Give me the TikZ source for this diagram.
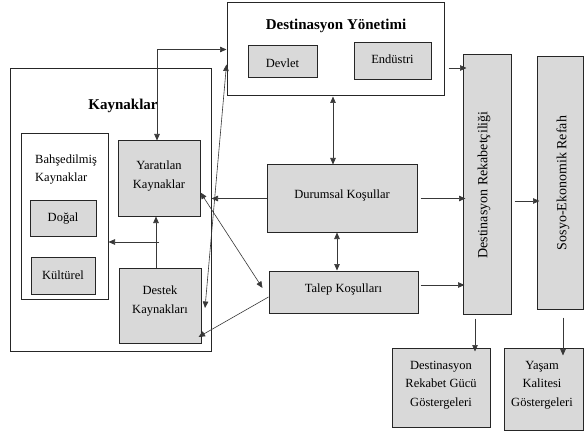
\documentclass[tikz,border=0pt]{standalone}
\usepackage{fontspec}
\setmainfont{Liberation Serif}
\usetikzlibrary{arrows.meta}
\definecolor{boxgray}{HTML}{D9D9D9}
\definecolor{lin}{HTML}{262626}
\definecolor{arrc}{HTML}{383838}
\begin{document}
\begin{tikzpicture}[x=1pt,y=-1pt,
  box/.style={draw=lin, line width=1pt, inner sep=0pt},
  gbox/.style={box, fill=boxgray},
  wbox/.style={box, fill=white},
  txt/.style={font=\fontsize{12.5}{18.5}\selectfont, align=center, inner sep=0pt, yshift=-2pt},
  ttl/.style={font=\fontsize{15}{18}\selectfont\bfseries, inner sep=0pt, yshift=-2pt},
  rtxt/.style={font=\fontsize{14}{16}\selectfont, rotate=90, inner sep=0pt},
  tip/.tip={Triangle[length=6.5pt,width=5.5pt]},
  arr/.style={draw=arrc, line width=0.6pt, -tip},
  darr/.style={draw=arrc, line width=0.6pt, tip-tip}
]
\useasboundingbox[fill=white] (0,0) rectangle (584,433);

% Kaynaklar group
\node[wbox, minimum width=201pt, minimum height=282pt] (kay) at (110.5,210) {};
\node[ttl] (kayT) at (123,104) {Kaynaklar};
\node[wbox, minimum width=87pt, minimum height=165pt] (bah) at (64.5,216.5) {};
\node[txt, anchor=west, align=left] (bahT) at (35,167.5) {Bahşedilmiş\\Kaynaklar};
\node[gbox, minimum width=66pt, minimum height=35pt] (dog) at (63,218.5) {};
\node[txt] (dogT) at (63,217) {Doğal};
\node[gbox, minimum width=64pt, minimum height=37pt] (kul) at (63,275.5) {};
\node[txt] (kulT) at (63,273) {Kültürel};
\node[gbox, minimum width=82pt, minimum height=75pt] (yar) at (159,178.5) {};
\node[txt] (yarT) at (159,174) {Yaratılan\\Kaynaklar};
\node[gbox, minimum width=82pt, minimum height=75pt] (des) at (160,305.5) {};
\node[txt] (desT) at (160,299) {Destek\\Kaynakları};

% Destinasyon Yonetimi
\node[wbox, minimum width=217pt, minimum height=93pt] (dy) at (335.5,49.5) {};
\node[ttl] (dyT) at (336,24) {Destinasyon Yönetimi};
\node[gbox, minimum width=69pt, minimum height=32pt] (dev) at (282.5,62) {};
\node[txt] (devT) at (282.5,61) {Devlet};
\node[gbox, minimum width=77pt, minimum height=37pt] (end) at (392.5,61.5) {};
\node[txt] (endT) at (392.5,57.5) {Endüstri};

% Conditions
\node[gbox, minimum width=150pt, minimum height=67pt] (dur) at (342,198.5) {};
\node[txt] (durT) at (342,193) {Durumsal Koşullar};
\node[gbox, minimum width=149pt, minimum height=42pt] (tal) at (343.5,292) {};
\node[txt] (talT) at (343.5,287) {Talep Koşulları};

% Right columns
\node[gbox, minimum width=48pt, minimum height=259pt] (dr) at (487,184.5) {};
\node[rtxt] (drT) at (484,185) {Destinasyon Rekabetçiliği};
\node[gbox, minimum width=46pt, minimum height=252pt] (ser) at (560,183) {};
\node[rtxt] (serT) at (563,183) {Sosyo-Ekonomik Refah};
\node[gbox, minimum width=98pt, minimum height=79pt] (drgg) at (441,387.5) {};
\node[txt] (drggT) at (441,383) {Destinasyon\\Rekabet Gücü\\Göstergeleri};
\node[gbox, minimum width=79pt, minimum height=82pt] (ykg) at (543.5,389) {};
\node[txt] (ykgT) at (542,383) {Yaşam\\Kalitesi\\Göstergeleri};

% connectors
\draw[darr] ([xshift=-2pt]yar.north) |- (dy.west);
\coordinate (dsr) at (205,308);
\draw[darr] ([yshift=-15pt]dy.west) -- (dsr);
\draw[arr] (dur.west) -- (dur.west -| kay.east);
\draw[darr] ([yshift=-14pt]yar.east) -- ([xshift=-6pt,yshift=4pt]tal.west);
\draw[arr] ([yshift=-5pt]tal.west) -- ([xshift=-3pt,yshift=-31.5pt]des.east);
\draw[darr] ([xshift=-2.5pt]dy.south) -- ([xshift=-2.5pt]dy.south |- dur.north);
\draw[darr] ([xshift=-5pt]dur.south) -- ([xshift=-5pt]dur.south |- tal.north);
\draw[arr] ([xshift=-4pt]des.north) -- ([xshift=-4pt]des.north |- yar.south);
\coordinate (j) at (159,242);
\draw[arr] (j) -- (j -| bah.east);
\draw[arr] ([xshift=4pt,yshift=-18.5pt]dy.east) -- ([xshift=4pt,yshift=-18.5pt]dy.east -| dr.west);
\draw[arr] ([xshift=3pt]dur.east) -- ([xshift=3pt]dur.east -| dr.west);
\draw[arr] ([xshift=2pt,yshift=7pt]tal.east) -- ([xshift=2pt,yshift=7pt]tal.east -| dr.west);
\draw[arr] ([xshift=3pt,yshift=-16.5pt]dr.east) -- ([xshift=3pt,yshift=-16.5pt]dr.east -| ser.west);
\draw[arr] ([xshift=-12pt,yshift=-4pt]dr.south) -- ([xshift=-12pt,yshift=-4pt]dr.south |- drgg.north);
\draw[arr] ([xshift=3pt,yshift=-8pt]ser.south) -- ([xshift=3pt,yshift=-8pt]ser.south |- ykg.north);
\end{tikzpicture}
\end{document}
